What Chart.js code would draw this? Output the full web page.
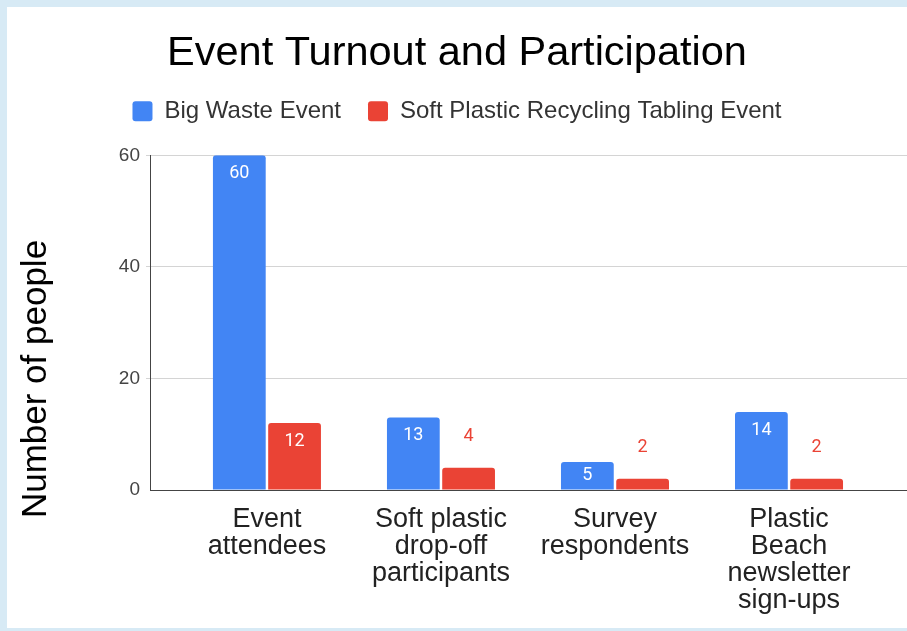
<!DOCTYPE html>
<html>
<head>
<meta charset="utf-8">
<script src="https://cdn.jsdelivr.net/npm/chart.js@4/dist/chart.umd.min.js"></script>
<style>
  body { margin: 0; background: #d7eaf5; width: 907px; height: 631px; overflow: hidden; }
  #panel { position: absolute; left: 7px; top: 7px; width: 900px; height: 621px; background: #fff; }
</style>
</head>
<body>
<div id="panel"><canvas id="myChart" width="900" height="621"></canvas></div>
<script>
const categories = [
  ['Event', 'attendees'],
  ['Soft plastic', 'drop-off', 'participants'],
  ['Survey', 'respondents'],
  ['Plastic', 'Beach', 'newsletter', 'sign-ups']
];
const bigWaste = [60, 13, 5, 14];
const softPlastic = [12, 4, 2, 2];
const yTicks = [0, 20, 40, 60];

const font = "'Liberation Sans', Arial, sans-serif";

// extra room under the legend, like the google chart has
const legendGap = {
  id: 'legendGap',
  afterInit(chart) {
    const fit = chart.legend.fit;
    chart.legend.fit = function () {
      fit.call(this);
      this.height += 22;
    };
  }
};

// y axis title, centered lower than the plot like in the original
const yTitle = {
  id: 'yTitle',
  afterDraw(chart) {
    const ctx = chart.ctx;
    ctx.save();
    ctx.translate(39, 372);
    ctx.rotate(-Math.PI / 2);
    ctx.font = `35px ${font}`;
    ctx.fillStyle = '#000';
    ctx.textAlign = 'center';
    ctx.textBaseline = 'alphabetic';
    ctx.fillText('Number of people', 0, 0);
    ctx.restore();
  }
};

// value labels: inside the bar when it fits, otherwise above it
const valueLabels = {
  id: 'valueLabels',
  afterDatasetsDraw(chart) {
    const ctx = chart.ctx;
    ctx.save();
    ctx.font = '18px Roboto, sans-serif';
    ctx.textAlign = 'center';
    ctx.textBaseline = 'middle';
    chart.data.datasets.forEach((ds, di) => {
      const meta = chart.getDatasetMeta(di);
      meta.data.forEach((bar, i) => {
        const v = ds.data[i].y;
        const h = bar.base - bar.y;
        if (h > 25) {
          ctx.fillStyle = '#fff';
          ctx.fillText(v, bar.x, bar.y + Math.min(18.5, h / 2));
        } else {
          ctx.fillStyle = ds.backgroundColor;
          ctx.fillText(v, bar.x, bar.y - 31);
        }
      });
    });
    ctx.restore();
  }
};

new Chart('myChart', {
  type: 'bar',
  data: {
    datasets: [
      {
        label: 'Big Waste Event',
        backgroundColor: '#4285f4',
        data: bigWaste.map((v, i) => ({ x: i, y: v }))
      },
      {
        label: 'Soft Plastic Recycling Tabling Event',
        backgroundColor: '#ea4335',
        data: softPlastic.map((v, i) => ({ x: i, y: v }))
      }
    ]
  },
  options: {
    responsive: false,
    animation: false,
    categoryPercentage: 0.635,
    barPercentage: 0.955,
    borderRadius: { topLeft: 3, topRight: 3, bottomLeft: 0, bottomRight: 0 },
    borderSkipped: 'start',
    layout: { padding: 0 },
    plugins: {
      title: {
        display: true,
        text: 'Event Turnout and Participation',
        color: '#000',
        font: { family: font, size: 41.5, weight: 'normal', lineHeight: 0.9 },
        padding: { top: 28, bottom: 0 }
      },
      legend: {
        labels: {
          color: '#333',
          font: { family: font, size: 24 },
          boxWidth: 20,
          boxHeight: 20,
          padding: 27,
          useBorderRadius: true,
          borderRadius: 3
        }
      },
      tooltip: { enabled: false }
    },
    scales: {
      x: {
        type: 'linear',
        min: -0.672,
        max: 3.678,
        offset: false,
        grid: { display: false, offset: false },
        border: { color: '#444', width: 1 },
        afterFit(scale) { scale.height = 138; },
        afterBuildTicks(scale) {
          scale.ticks = categories.map((c, i) => ({ value: i }));
        },
        ticks: {
          autoSkip: false,
          maxRotation: 0,
          padding: 8,
          color: '#222',
          font: { family: font, size: 27, lineHeight: 1.0 },
          callback: (value) => categories[value]
        }
      },
      y: {
        min: 0,
        max: 60,
        afterFit(scale) { scale.width = 143; },
        afterBuildTicks(scale) {
          scale.ticks = yTicks.map(v => ({ value: v }));
        },
        grid: {
          color: (c) => c.tick && c.tick.value === 0 ? 'rgba(0,0,0,0)' : '#d4d4d4',
          tickLength: 4
        },
        border: { color: '#444', width: 1 },
        ticks: {
          padding: 6,
          color: '#444',
          font: { family: font, size: 19 }
        }
      }
    }
  },
  plugins: [legendGap, yTitle, valueLabels]
});
</script>
</body>
</html>
